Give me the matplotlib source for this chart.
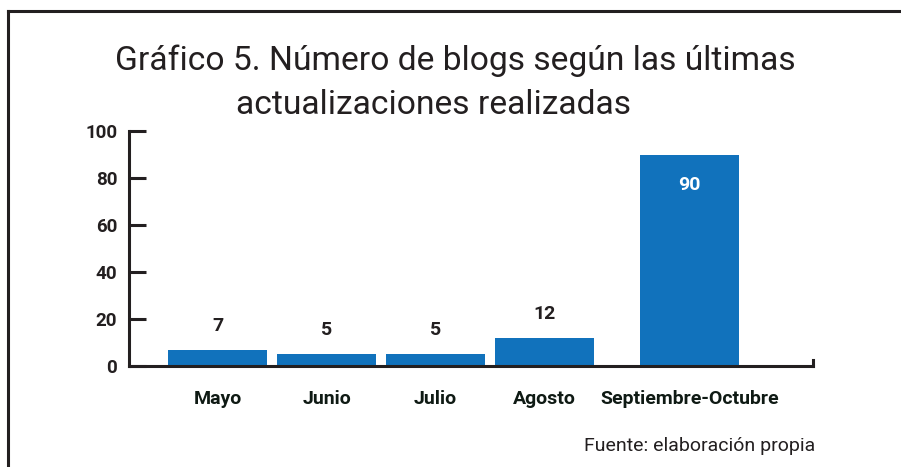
import numpy as np
import matplotlib
matplotlib.use('Agg')
import matplotlib.pyplot as plt
from matplotlib.lines import Line2D

categorias = ['Mayo', 'Junio', 'Julio', 'Agosto', 'Septiembre-Octubre']
blogs = [7, 5, 5, 12, 90]
yticks = [0, 20, 40, 60, 80, 100]

titulo1 = 'Gráfico 5. Número de blogs según las últimas'
titulo2 = 'actualizaciones realizadas'
fuente = 'Fuente: elaboración propia'

# the last category sits a bit further to the right
pos = np.arange(len(categorias), dtype=float)
pos[-1] += 0.33

azul = '#1172bc'
oscuro = '#231f20'
fam = ['Roboto', 'DejaVu Sans']

W, H = 901, 467
fig = plt.figure(figsize=(W/100., H/100.), dpi=100)
ax = fig.add_axes([129./W, (H-366.)/H, (813.-129.)/W, (366.-131.)/H])

ax.bar(pos, blogs, width=0.908, color=azul, zorder=2)
ax.set_xlim(-0.812, 5.463)
ax.set_ylim(0, 100)

ax.spines['top'].set_visible(False)
for s in ['left', 'bottom', 'right']:
    ax.spines[s].set_linewidth(2.2)
    ax.spines[s].set_color(oscuro)
ax.spines['right'].set_bounds(0, 2.5)

ax.set_yticks(yticks)
ax.set_yticklabels([str(v) for v in yticks], fontsize=13.5, fontweight='bold',
                   color=oscuro, family=fam)
ax.tick_params(axis='y', direction='in', length=12.2, width=2.2, color=oscuro, pad=8.5)
ax.set_xticks(pos)
ax.set_xticklabels(categorias, fontsize=14, fontweight='bold', color='#0f1a14', family=fam)
ax.tick_params(axis='x', length=0, pad=17)

for x, v in zip(pos, blogs):
    if v > 50:
        ax.annotate(str(v), (x, v), xytext=(0, -30), textcoords='offset pixels',
                    ha='center', va='center', color='white', fontsize=14,
                    fontweight='bold', family=fam)
    else:
        ax.annotate(str(v), (x, v), xytext=(0, 24), textcoords='offset pixels',
                    ha='center', va='center', color=oscuro, fontsize=14,
                    fontweight='bold', family=fam)

fig.text(455./W, 1 - 61./H, titulo1, ha='center', va='center', fontsize=24.2,
         color=oscuro, family=fam)
fig.text(433./W, 1 - 105./H, titulo2, ha='center', va='center', fontsize=24.2,
         color=oscuro, family=fam)
fig.text(815./W, 1 - 446./H, fuente, ha='right', va='center', fontsize=14,
         color=oscuro, family=fam)

# frame lines top and left
fig.add_artist(Line2D([8./W, 1.0], [1 - 11./H, 1 - 11./H], transform=fig.transFigure,
                      color=oscuro, lw=2.2))
fig.add_artist(Line2D([8./W, 8./W], [0, 1 - 11./H], transform=fig.transFigure,
                      color=oscuro, lw=2.2))

fig.savefig('out.png', dpi=100)
